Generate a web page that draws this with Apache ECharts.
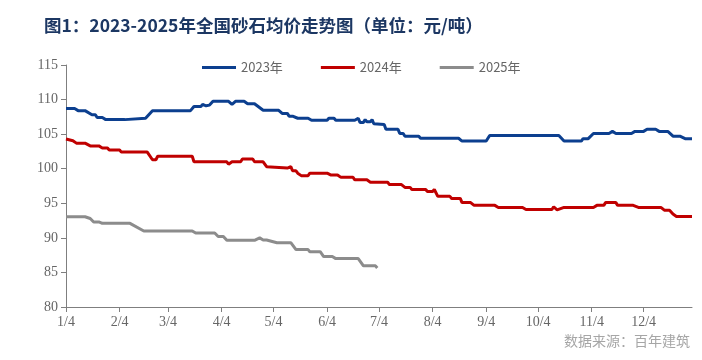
<!DOCTYPE html>
<html>
<head>
<meta charset="utf-8">
<script src="https://cdn.jsdelivr.net/npm/echarts@6/dist/echarts.min.js"></script>
<style>
html,body{margin:0;padding:0;background:#fff;}
#chart{width:702px;height:360px;}
</style>
</head>
<body>
<div id="chart"></div>
<script>
// Day offsets are counted from January 4th
const tickDays = [0, 31, 59, 90, 120, 151, 181, 212, 243, 273, 304, 334];
const tickLabels = ['1/4', '2/4', '3/4', '4/4', '5/4', '6/4', '7/4', '8/4', '9/4', '10/4', '11/4', '12/4'];
const seriesNames = ['2023年', '2024年', '2025年'];

const days2023 = [0, 5, 7, 11, 15, 17, 18, 21, 23, 34, 35, 46, 50, 72, 74, 78, 79, 81, 83, 85, 94, 96, 98, 103, 105, 109, 114, 123, 125, 128, 129, 131, 134, 140, 142, 151, 152, 155, 156, 167, 169, 170, 172, 173, 174, 176, 177, 178, 184, 185, 192, 193, 195, 196, 204, 205, 227, 229, 243, 245, 285, 288, 298, 299, 302, 305, 314, 316, 318, 327, 329, 334, 336, 341, 343, 348, 351, 355, 358, 362];
const values2023 = [108.7, 108.7, 108.4, 108.4, 107.8, 107.8, 107.4, 107.4, 107.1, 107.1, 107.3, 107.3, 108.4, 108.4, 109.0, 109.0, 109.3, 109.1, 109.2, 109.75, 109.75, 109.3, 109.75, 109.75, 109.4, 109.4, 108.45, 108.45, 108.0, 108.0, 107.6, 107.6, 107.3, 107.3, 107.0, 107.0, 107.3, 107.3, 107.0, 107.0, 107.3, 106.7, 106.7, 107.1, 106.8, 106.8, 107.1, 106.5, 106.4, 105.7, 105.7, 105.1, 105.1, 104.7, 104.7, 104.4, 104.4, 104.0, 104.0, 104.8, 104.8, 104.0, 104.0, 104.35, 104.35, 105.1, 105.1, 105.4, 105.1, 105.1, 105.4, 105.4, 105.7, 105.7, 105.4, 105.4, 104.7, 104.7, 104.35, 104.35];

const days2024 = [0, 1, 4, 6, 11, 14, 19, 21, 24, 25, 31, 32, 47, 50, 52, 53, 73, 74, 93, 94, 96, 101, 102, 108, 109, 114, 116, 128, 130, 131, 133, 134, 136, 140, 141, 151, 153, 157, 159, 166, 167, 174, 176, 186, 187, 194, 196, 199, 200, 208, 209, 212, 213, 215, 222, 223, 228, 229, 234, 236, 248, 250, 264, 266, 281, 282, 284, 288, 305, 307, 311, 312, 318, 319, 328, 331, 344, 346, 349, 351, 353, 362];
const values2024 = [104.3, 104.05, 104.05, 103.7, 103.7, 103.3, 103.3, 103.0, 103.0, 102.7, 102.7, 102.4, 102.4, 101.3, 101.3, 101.8, 101.8, 101.0, 101.0, 100.65, 101.0, 101.0, 101.4, 101.4, 101.0, 101.0, 100.3, 100.1, 100.3, 99.7, 99.7, 99.35, 99.0, 99.0, 99.35, 99.35, 99.1, 99.1, 98.75, 98.75, 98.4, 98.4, 98.05, 98.05, 97.7, 97.7, 97.3, 97.3, 97.0, 97.0, 96.7, 96.7, 97.0, 96.0, 96.0, 95.7, 95.7, 95.1, 95.1, 94.7, 94.7, 94.4, 94.4, 94.1, 94.1, 94.5, 94.05, 94.4, 94.4, 94.7, 94.7, 95.1, 95.1, 94.7, 94.7, 94.4, 94.4, 94.0, 94.0, 93.45, 93.1, 93.1];

const days2025 = [0, 11, 14, 16, 19, 21, 37, 45, 73, 75, 86, 88, 91, 93, 109, 112, 114, 116, 122, 130, 133, 140, 141, 147, 149, 154, 156, 169, 172, 179, 180];
const values2025 = [93.05, 93.05, 92.8, 92.3, 92.3, 92.1, 92.1, 91.0, 91.0, 90.7, 90.7, 90.2, 90.2, 89.65, 89.65, 90.0, 89.7, 89.7, 89.3, 89.3, 88.3, 88.3, 88.0, 88.0, 87.3, 87.3, 87.0, 87.0, 85.95, 85.95, 85.65];

const colors = ['#0c3f8f', '#c00000', '#8c8c8c'];
const zip = (d, v) => d.map((x, i) => [x, v[i]]);
const allData = [zip(days2023, values2023), zip(days2024, values2024), zip(days2025, values2025)];

const chart = echarts.init(document.getElementById('chart'), null, {renderer: 'canvas'});
const axisFont = 'Liberation Serif, Times New Roman, serif';
chart.setOption({
  animation: false,
  backgroundColor: '#ffffff',
  title: {
    text: '图1：2023-2025年全国砂石均价走势图（单位：元/吨）',
    left: 39, top: 12,
    textStyle: {fontSize: 17.5, fontWeight: 'bold', color: '#1c3763', fontFamily: 'Noto Sans CJK SC'}
  },
  graphic: [{
    type: 'text', right: 12, top: 334,
    style: {text: '数据来源：百年建筑', fill: '#a6a6a6', fontSize: 14, fontFamily: 'Noto Sans CJK SC'}
  }],
  legend: {
    left: 197, top: 56,
    icon: 'rect', itemWidth: 34, itemHeight: 3, itemGap: 38,
    textStyle: {fontSize: 13, color: '#666666', fontFamily: 'Noto Sans CJK SC'},
    data: seriesNames
  },
  grid: {left: 66, right: 10, top: 65, bottom: 53, containLabel: false},
  xAxis: {
    type: 'value', min: 0, max: 362,
    splitLine: {show: false},
    axisLine: {show: true, lineStyle: {color: '#7f7f7f', width: 1}},
    axisTick: {show: true, length: 5, customValues: tickDays, lineStyle: {color: '#7f7f7f'}},
    axisLabel: {
      customValues: tickDays,
      formatter: v => tickLabels[tickDays.indexOf(v)] || '',
      color: '#666666', fontSize: 14, fontFamily: axisFont, margin: 8
    }
  },
  yAxis: {
    type: 'value', min: 80, max: 115, interval: 5,
    splitLine: {show: false},
    axisLine: {show: true, lineStyle: {color: '#7f7f7f', width: 1}},
    axisTick: {show: true, length: 5, lineStyle: {color: '#7f7f7f'}},
    axisLabel: {color: '#666666', fontSize: 14, fontFamily: axisFont, margin: 8}
  },
  series: seriesNames.map((n, i) => ({
    name: n, type: 'line', data: allData[i], showSymbol: false,
    lineStyle: {width: 3, color: colors[i]}, itemStyle: {color: colors[i]}
  }))
});
</script>
</body>
</html>
